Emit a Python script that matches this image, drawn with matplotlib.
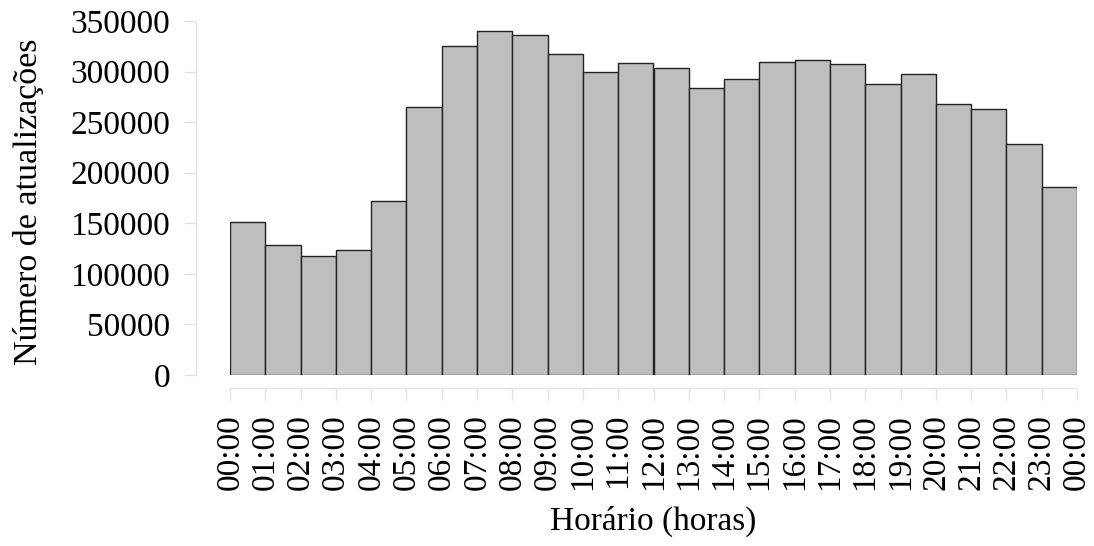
import matplotlib.pyplot as plt
import numpy as np

plt.rcParams['font.family'] = ['Liberation Serif', 'DejaVu Serif']

# updates per hour of the day
horas = ['00:00', '01:00', '02:00', '03:00', '04:00', '05:00', '06:00', '07:00',
         '08:00', '09:00', '10:00', '11:00', '12:00', '13:00', '14:00', '15:00',
         '16:00', '17:00', '18:00', '19:00', '20:00', '21:00', '22:00', '23:00',
         '00:00']
atualizacoes = [151000, 128200, 117300, 123300, 172300, 264600, 325300, 340000,
                336500, 317000, 299600, 308200, 303500, 284000, 293000, 309500,
                311000, 307000, 288000, 298000, 267600, 263300, 228400, 186200]

fig = plt.figure(figsize=(10.94, 5.46), dpi=100)
ax = fig.add_axes([230 / 1094, 1 - 375 / 546, 847 / 1094, 354 / 546])

edges = np.arange(len(atualizacoes) + 1)
ax.bar(edges[:-1], atualizacoes, width=1, align='edge',
       color='#bebebe', edgecolor='#222222', linewidth=1.0)

ax.set_xlim(0, 24)
ax.set_ylim(0, 350000)

# base-graphics look: detached light axis lines
for side in ['top', 'right']:
    ax.spines[side].set_visible(False)
ax.spines['left'].set_position(('outward', 24.5))
ax.spines['bottom'].set_position(('outward', 9.4))
for side in ['left', 'bottom']:
    ax.spines[side].set_color('#e3e3e3')
    ax.spines[side].set_linewidth(1.0)
ax.spines['left'].set_bounds(0, 350000)
ax.spines['bottom'].set_bounds(0, 24)

ax.set_yticks(np.arange(0, 350001, 50000))
ax.set_yticklabels([str(v) for v in range(0, 350001, 50000)])
ax.set_xticks(edges)
ax.set_xticklabels(horas, rotation=90)
ax.tick_params(axis='both', colors='#e3e3e3', labelcolor='black',
               labelsize=24, length=8.6, width=1.0)
ax.tick_params(axis='y', pad=10)
ax.tick_params(axis='x', pad=10)

ax.set_ylabel('Número de atualizações', fontsize=24.5)
ax.yaxis.set_label_coords((29 - 230) / 847, 0.49)
ax.yaxis.label.set_va('center')
ax.set_xlabel('Horário (horas)', fontsize=24)
ax.xaxis.set_label_coords((653 - 230) / 847, (375 - 521) / 354)
ax.xaxis.label.set_va('center')

fig.savefig('out.png', dpi=100)
